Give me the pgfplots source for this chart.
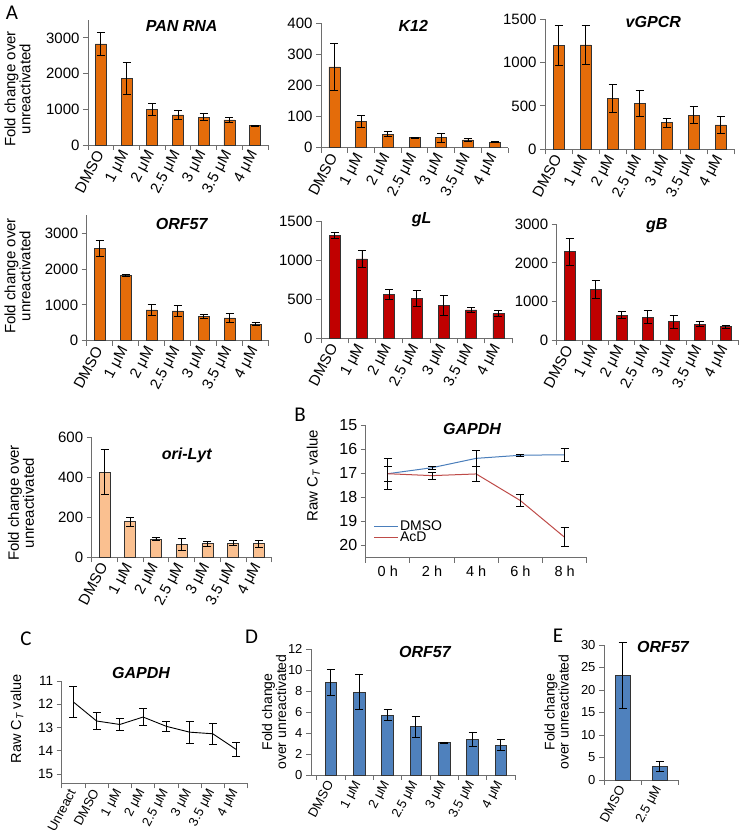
\documentclass[border=0pt]{standalone}
\usepackage{pgfplots}
\pgfplotsset{compat=1.18}
\usepackage{fontspec}
\setmainfont{Liberation Sans}
\newfontfamily\carlito{Carlito}
\definecolor{orA}{RGB}{228,108,10}
\definecolor{redA}{RGB}{192,0,0}
\definecolor{ltor}{RGB}{250,192,144}
\definecolor{blD}{RGB}{79,129,189}
\definecolor{lnB}{RGB}{74,126,187}
\definecolor{lnR}{RGB}{190,75,72}
\definecolor{axc}{RGB}{110,110,110}
\newcommand{\fs}[1]{\fontsize{#1}{#1}\selectfont}
\pgfplotsset{
 base/.style={scale only axis, axis lines*=left, axis line style={axc, line width=0.9pt},
   tick align=outside, tick pos=left, major tick length=5pt, minor tick length=5pt,
   tick style={axc, line width=0.9pt},
   major x tick style={opacity=0},
   /pgf/number format/assume math mode=true,
   /pgf/number format/1000 sep={},
   scaled y ticks=false, clip=false},
 cats7/.style={xmin=-0.5, xmax=6.5, xtick={0,...,6},
   xticklabels={DMSO,1 μM,2 μM,2.5 μM,3 μM,3.5 μM,4 μM}, minor xtick={-0.5,0.5,...,6.5}},
 rotlab/.style={x tick label style={rotate=62, anchor=east, font=\fs{#1}, inner sep=2pt}},
 ylab/.style={y tick label style={font=\fs{#1}}},
 barstyle/.style={ybar, bar width=#1, ymin=0},
 ebar/.style={error bars/.cd, y dir=both, y explicit, error bar style={black, line width=0.8pt},
   error mark options={rotate=90, black, mark size=4pt, line width=0.8pt}},
}
\begin{document}
\begin{tikzpicture}
\useasboundingbox (0,0) rectangle (739pt,837pt);
% A1 PAN RNA
\begin{axis}[base, cats7, rotlab=15, ylab=15, barstyle=11pt, at={(88pt,692pt)}, anchor=south west,
  width=180pt, height=125pt, ymax=3500, ytick={0,1000,2000,3000}]
\addplot[fill=orA, draw=black!80, line width=0.6pt, ebar] coordinates {(0,2830)+-(0,320) (1,1860)+-(0,440) (2,995)+-(0,180) (3,840)+-(0,130) (4,775)+-(0,100) (5,700)+-(0,65) (6,540)+-(0,20)};
\end{axis}
% A2 K12
\begin{axis}[base, cats7, rotlab=15, ylab=15, barstyle=11pt, at={(321pt,689.3pt)}, anchor=south west,
  width=187pt, height=124.4pt, ymax=400, ytick={0,100,...,400}]
\addplot[fill=orA, draw=black!80, line width=0.6pt, ebar] coordinates {(0,260)+-(0,75) (1,84)+-(0,19) (2,43)+-(0,8) (3,32)+-(0,2) (4,32)+-(0,14) (5,25)+-(0,5) (6,18)+-(0,2)};
\end{axis}
% A3 vGPCR
\begin{axis}[base, cats7, rotlab=15, ylab=15, barstyle=11pt, at={(545pt,687.7pt)}, anchor=south west,
  width=189pt, height=130.3pt, ymax=1500, ytick={0,500,1000,1500}]
\addplot[fill=orA, draw=black!80, line width=0.6pt, ebar] coordinates {(0,1193)+-(0,230) (1,1201)+-(0,225) (2,583)+-(0,160) (3,525)+-(0,150) (4,306)+-(0,50) (5,392)+-(0,97) (6,280)+-(0,95)};
\end{axis}
% A4 ORF57
\begin{axis}[base, cats7, rotlab=15, ylab=15, barstyle=11pt, at={(86.7pt,496.3pt)}, anchor=south west,
  width=182pt, height=125.3pt, ymax=3500, ytick={0,1000,2000,3000}]
\addplot[fill=orA, draw=black!80, line width=0.6pt, ebar] coordinates {(0,2580)+-(0,215) (1,1815)+-(0,30) (2,860)+-(0,150) (3,830)+-(0,160) (4,680)+-(0,55) (5,635)+-(0,125) (6,460)+-(0,40)};
\end{axis}
% A5 gL
\begin{axis}[base, cats7, rotlab=15, ylab=15, barstyle=11pt, at={(321pt,498.7pt)}, anchor=south west,
  width=191pt, height=117.3pt, ymax=1500, ytick={0,500,1000,1500}]
\addplot[fill=redA, draw=black!80, line width=0.6pt, ebar] coordinates {(0,1313)+-(0,40) (1,1014)+-(0,110) (2,563)+-(0,60) (3,511)+-(0,105) (4,418)+-(0,125) (5,362)+-(0,35) (6,315)+-(0,40)};
\end{axis}
% A6 gB
\begin{axis}[base, cats7, rotlab=15, ylab=15, barstyle=11pt, at={(556.7pt,497pt)}, anchor=south west,
  width=182pt, height=115.7pt, ymax=3000, ytick={0,1000,2000,3000}]
\addplot[fill=redA, draw=black!80, line width=0.6pt, ebar] coordinates {(0,2289)+-(0,345) (1,1313)+-(0,235) (2,648)+-(0,85) (3,596)+-(0,165) (4,475)+-(0,170) (5,406)+-(0,65) (6,345)+-(0,45)};
\end{axis}
% A7 ori-Lyt
\begin{axis}[base, cats7, rotlab=15, ylab=15, barstyle=11pt, at={(91.7pt,279.7pt)}, anchor=south west,
  width=180pt, height=120pt, ymax=600, ytick={0,200,400,600}]
\addplot[fill=ltor, draw=black!80, line width=0.6pt, ebar] coordinates {(0,425)+-(0,113) (1,178)+-(0,22) (2,90)+-(0,8) (3,65)+-(0,30) (4,68)+-(0,12) (5,70)+-(0,12) (6,68)+-(0,18)};
\end{axis}
% B GAPDH time course
\begin{axis}[base, at={(365.7pt,279.3pt)}, anchor=south west, width=221pt, height=132.7pt,
  y dir=reverse,
  ymin=15, ymax=20.53, ytick={15,...,20}, ylab=16,
  xmin=-0.5, xmax=4.5, xtick={0,...,4}, xticklabels={0 h,2 h,4 h,6 h,8 h}, minor xtick={-0.5,0.5,...,4.5},
  x tick label style={font=\fs{14.5}},
  legend style={at={(0.035,0.29)}, anchor=north west, draw=none, fill=none, font=\fs{14}, row sep=-3pt, inner sep=0pt, nodes={inner sep=1.5pt}},
  legend cell align=left,
  legend image code/.code={\draw[#1, line width=1pt] (0pt,0pt) -- (24pt,0pt);}]
\addplot[lnB, line width=1pt, no markers, ebar] coordinates {(0,17.03)+-(0,0.3) (1,16.78)+-(0,0.05) (2,16.39)+-(0,0.35) (3,16.26)+-(0,0.04) (4,16.24)+-(0,0.28)};
\addlegendentry{DMSO}
\addplot[lnR, line width=1pt, no markers, ebar] coordinates {(0,17.03)+-(0,0.65) (1,17.11)+-(0,0.15) (2,17.04)+-(0,0.33) (3,18.15)+-(0,0.25) (4,19.68)+-(0,0.4)};
\addlegendentry{AcD}
\end{axis}
% C GAPDH dose
\begin{axis}[base, at={(61.7pt,53.7pt)}, anchor=south west, width=186pt, height=102.3pt,
  y dir=reverse,
  ymin=11, ymax=15.4, ytick={11,...,15}, ylab=13.5,
  xmin=-0.5, xmax=7.5, xtick={0,...,7}, xticklabels={Unreact,DMSO,1 μM,2 μM,2.5 μM,3 μM,3.5 μM,4 μM},
  minor xtick={-0.5,0.5,...,7.5}, rotlab=13]
\addplot[black, line width=0.9pt, no markers, ebar] coordinates {(0,11.9)+-(0,0.67) (1,12.72)+-(0,0.35) (2,12.87)+-(0,0.27) (3,12.55)+-(0,0.35) (4,12.95)+-(0,0.22) (5,13.2)+-(0,0.47) (6,13.27)+-(0,0.45) (7,13.94)+-(0,0.3)};
\end{axis}
% D ORF57
\begin{axis}[base, cats7, xmin=-0.7, rotlab=13, ylab=13, barstyle=11.5pt, at={(311pt,62pt)}, anchor=south west,
  width=204pt, height=126pt, ymax=12, ytick={0,2,...,12}]
\addplot[fill=blD, draw=black!80, line width=0.6pt, ebar] coordinates {(0,8.8)+-(0,1.25) (1,7.9)+-(0,1.65) (2,5.7)+-(0,0.5) (3,4.6)+-(0,1.0) (4,3.1)+-(0,0.05) (5,3.4)+-(0,0.7) (6,2.85)+-(0,0.55)};
\end{axis}
% E ORF57
\begin{axis}[base, rotlab=13, ylab=13, barstyle=15pt, at={(604pt,57pt)}, anchor=south west,
  width=74pt, height=135pt, ymax=30, ytick={0,5,...,30},
  xmin=-0.5, xmax=1.5, xtick={0,1}, xticklabels={DMSO,2.5 μM}, minor xtick={-0.5,0.5,1.5}]
\addplot[fill=blD, draw=black!80, line width=0.6pt, ebar] coordinates {(0,23.3)+-(0,7.3) (1,3.0)+-(0,1.1)};
\end{axis}
% panel letters
\node[font=\carlito\fs{21}] at (12pt,824pt) {A};
\node[font=\carlito\fs{21}] at (300pt,422pt) {B};
\node[font=\carlito\fs{21}] at (26pt,198pt) {C};
\node[font=\carlito\fs{21}] at (251.5pt,200pt) {D};
\node[font=\carlito\fs{21}] at (558pt,201.3pt) {E};
% titles
\begin{scope}[every node/.style={font=\bfseries\itshape\fs{16}}]
\node at (181.7pt,811pt) {PAN RNA};
\node at (413.3pt,811pt) {K12};
\node at (653.3pt,815.3pt) {vGPCR};
\node at (181.7pt,612.7pt) {ORF57};
\node at (421.7pt,617pt) {gL};
\node at (656.7pt,611.3pt) {gB};
\node at (186.7pt,382pt) {ori-Lyt};
\node at (472pt,408pt) {GAPDH};
\node at (141pt,164pt) {GAPDH};
\node at (425pt,185pt) {ORF57};
\node at (663pt,190pt) {ORF57};
\end{scope}
% y labels
\begin{scope}[every node/.style={rotate=90, align=center, inner sep=0pt}]
\node[font=\fs{15}] at (17.5pt,748pt) {Fold change over\\unreactivated};
\node[font=\fs{15}] at (17.5pt,561pt) {Fold change over\\unreactivated};
\node[font=\fs{15}] at (21pt,334pt) {Fold change over\\unreactivated};
\node[font=\fs{15}] at (313.3pt,361.3pt) {Raw C\textsubscript{\itshape T} value};
\node[font=\fs{14.5}] at (17pt,118pt) {Raw C\textsubscript{\itshape T} value};
\node[font=\fs{14}, align=center] at (274pt,125pt) {\fontsize{14}{17.5}\selectfont Fold change\\over unreactivated};
\node[font=\fs{14}, align=center] at (556.7pt,125pt) {\fontsize{14}{16.7}\selectfont Fold change\\over unreactivated};
\end{scope}
\end{tikzpicture}
\end{document}
